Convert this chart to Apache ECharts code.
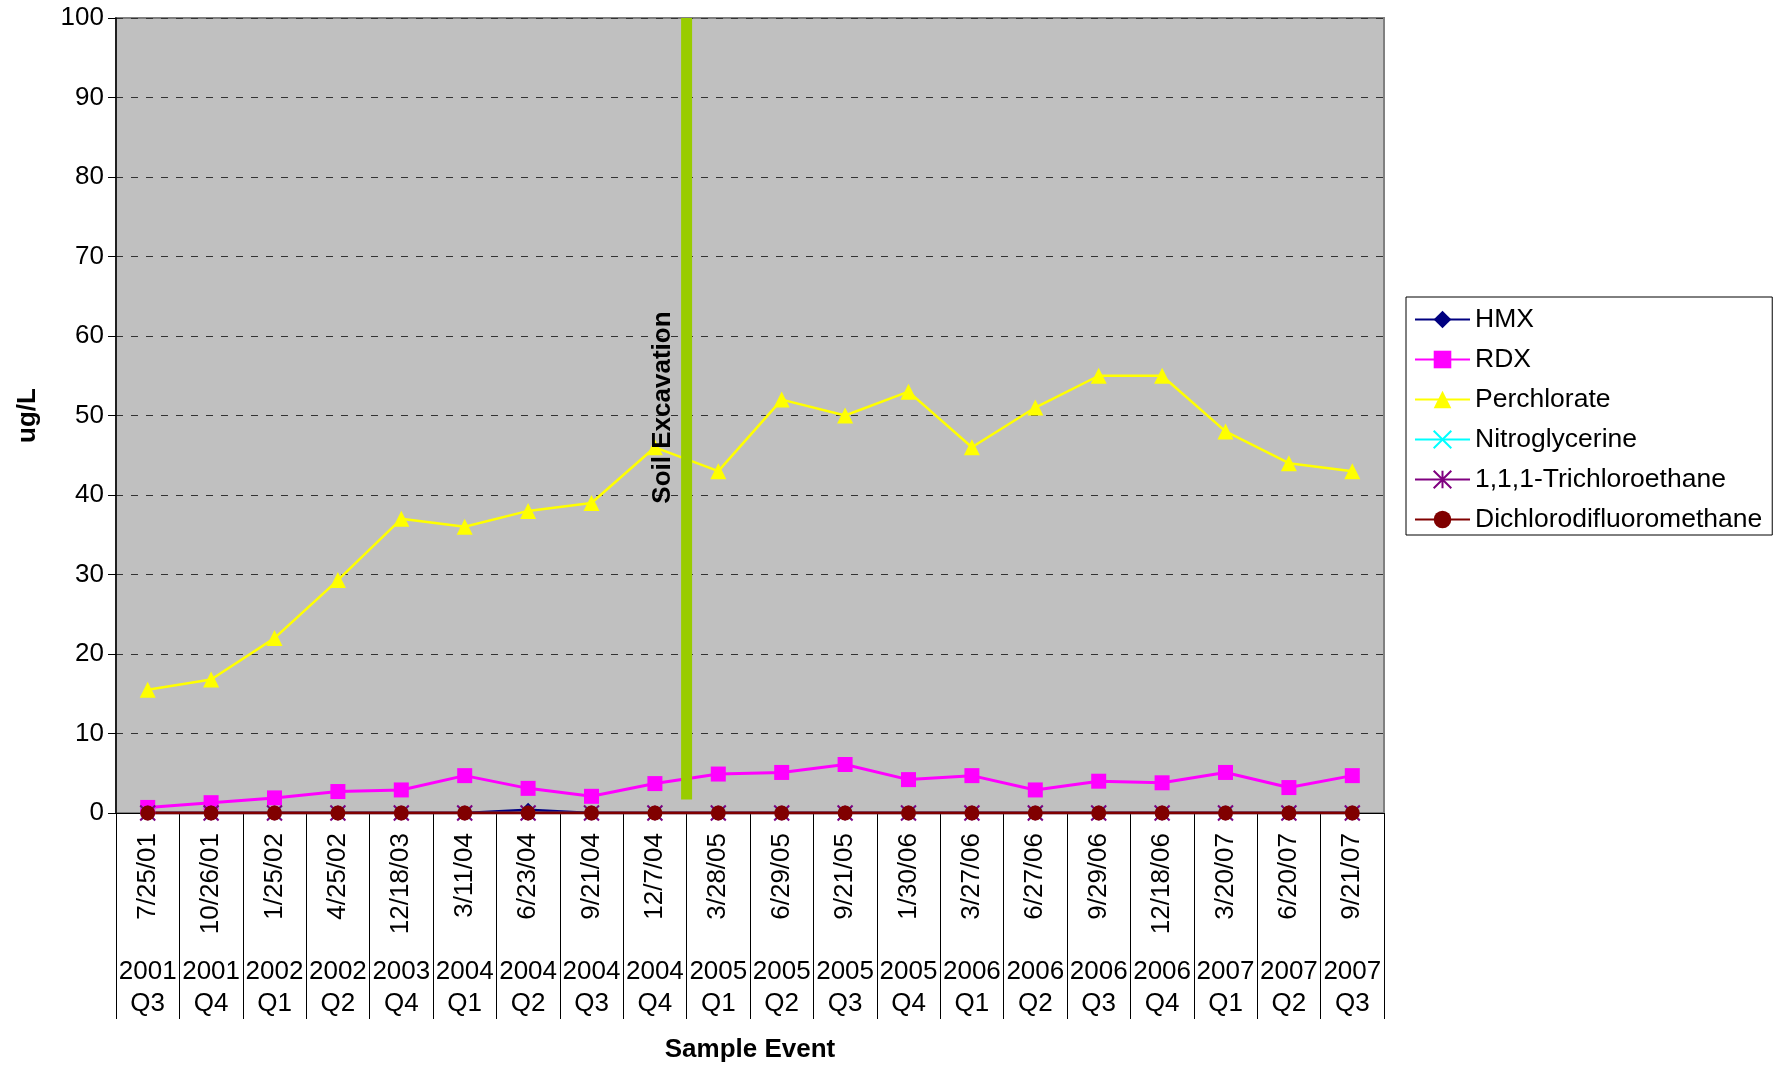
<!DOCTYPE html>
<html>
<head>
<meta charset="utf-8">
<script src="https://cdn.jsdelivr.net/npm/echarts@6/dist/echarts.min.js"></script>
<style>
  html, body { margin: 0; padding: 0; background: #fff; }
  #chart { width: 1780px; height: 1068px; }
</style>
</head>
<body>
<div id="chart"></div>
<script>
// Sample events: collection dates and the year/quarter they belong to
const sampleDates = ['7/25/01', '10/26/01', '1/25/02', '4/25/02', '12/18/03', '3/11/04', '6/23/04', '9/21/04', '12/7/04',
  '3/28/05', '6/29/05', '9/21/05', '1/30/06', '3/27/06', '6/27/06', '9/29/06', '12/18/06', '3/20/07', '6/20/07', '9/21/07'];
const sampleQuarters = ['2001\nQ3', '2001\nQ4', '2002\nQ1', '2002\nQ2', '2003\nQ4', '2004\nQ1', '2004\nQ2', '2004\nQ3', '2004\nQ4',
  '2005\nQ1', '2005\nQ2', '2005\nQ3', '2005\nQ4', '2006\nQ1', '2006\nQ2', '2006\nQ3', '2006\nQ4', '2007\nQ1', '2007\nQ2', '2007\nQ3'];

// Concentrations, ug/L
const hmx = [0, 0, 0, 0, 0, 0, 0.4, 0, 0, 0, 0, 0, 0, 0, 0, 0, 0, 0, 0, 0];
const rdx = [0.7, 1.3, 1.9, 2.7, 2.9, 4.7, 3.1, 2.1, 3.7, 4.9, 5.1, 6.1, 4.2, 4.7, 2.9, 4.0, 3.8, 5.1, 3.2, 4.7];
const perchlorate = [15.5, 16.8, 22, 29.3, 37, 36, 38, 39, 46, 43, 52, 50, 53, 46, 51, 55, 55, 48, 44, 43];
const nitroglycerine = [0, 0, 0, 0, 0, 0, 0, 0, 0, 0, 0, 0, 0, 0, 0, 0, 0, 0, 0, 0];
const trichloroethane = [0, 0, 0, 0, 0, 0, 0, 0, 0, 0, 0, 0, 0, 0, 0, 0, 0, 0, 0, 0];
const dichlorodifluoromethane = [0, 0, 0, 0, 0, 0, 0, 0, 0, 0, 0, 0, 0, 0, 0, 0, 0, 0, 0, 0];

// Soil excavation event: between the 12/7/04 and 3/28/05 samples
const excavationPosition = 8.5;
const excavationSpan = [1.7, 100];
const yTicks = { min: 0, max: 100, interval: 10 };

const FONT = "'Liberation Sans', Arial, Helvetica, sans-serif";
const FS = 26;

const chart = echarts.init(document.getElementById('chart'), null, { renderer: 'canvas' });

function lineSeries(name, data, color, symbol, size, width, extra) {
  return Object.assign({
    name: name,
    type: 'line',
    xAxisIndex: 0,
    yAxisIndex: 0,
    data: data,
    symbol: symbol,
    symbolSize: size,
    showAllSymbol: true,
    lineStyle: { color: color, width: width },
    itemStyle: { color: color, borderColor: color, borderWidth: 0 },
    emphasis: { disabled: true },
    animation: false
  }, extra || {});
}

const option = {
  backgroundColor: '#ffffff',
  animation: false,
  textStyle: { fontFamily: FONT, color: '#000' },
  grid: {
    left: 116, right: 396, top: 18, bottom: 247,
    show: true,
    backgroundColor: '#C0C0C0',
    borderColor: '#808080',
    borderWidth: 2
  },
  legend: {
    orient: 'vertical',
    left: 1406,
    top: 297,
    padding: [9, 10, 2, 8],
    itemWidth: 55,
    itemHeight: 22,
    itemGap: 13,
    borderColor: '#000',
    borderWidth: 1,
    backgroundColor: '#fff',
    textStyle: { fontFamily: FONT, fontSize: 26.5, color: '#000', lineHeight: 26 },
    data: ['HMX', 'RDX', 'Perchlorate', 'Nitroglycerine', '1,1,1-Trichloroethane', 'Dichlorodifluoromethane']
  },
  xAxis: [
    {
      type: 'category',
      data: sampleDates,
      boundaryGap: true,
      axisLine: { show: true, lineStyle: { color: '#000', width: 1 } },
      axisTick: { show: true, interval: 0, length: 206, lineStyle: { color: '#000', width: 1 } },
      axisLabel: {
        interval: 0, rotate: 90, margin: 20,
        fontFamily: FONT, fontSize: FS, color: '#000'
      },
      splitLine: { show: false },
      name: 'Sample Event',
      nameLocation: 'middle',
      nameGap: 224,
      nameTextStyle: { fontFamily: FONT, fontSize: FS, fontWeight: 'bold', color: '#000' }
    },
    {
      type: 'category',
      data: sampleQuarters,
      position: 'bottom',
      offset: 135,
      boundaryGap: true,
      axisLine: { show: false },
      axisTick: { show: false },
      axisLabel: {
        interval: 0, margin: 8,
        fontFamily: FONT, fontSize: FS, color: '#000', lineHeight: 32
      },
      splitLine: { show: false }
    },
    {
      type: 'value',
      min: -0.5,
      max: 19.5,
      show: false
    }
  ],
  yAxis: {
    type: 'value',
    min: yTicks.min,
    max: yTicks.max,
    interval: yTicks.interval,
    axisLine: { show: true, onZero: false, lineStyle: { color: '#000', width: 1.5 } },
    axisTick: { show: true, length: 8, lineStyle: { color: '#000' } },
    axisLabel: { fontFamily: FONT, fontSize: FS, color: '#000', margin: 12 },
    splitLine: { show: true, lineStyle: { color: '#333', type: [7, 8], width: 1 } },
    name: 'ug/L',
    nameLocation: 'middle',
    nameGap: 75,
    nameTextStyle: { fontFamily: FONT, fontSize: FS, fontWeight: 'bold', color: '#000' }
  },
  series: [
    // Soil excavation marker bar with its caption, drawn over the data lines
    {
      name: 'Soil Excavation',
      type: 'line',
      xAxisIndex: 2,
      yAxisIndex: 0,
      data: excavationSpan.map(v => [excavationPosition, v]),
      symbol: 'none',
      lineStyle: { color: '#99CC00', width: 11, cap: 'butt' },
      z: 5,
      silent: true,
      animation: false,
      markPoint: {
        symbol: 'rect',
        symbolSize: 1,
        itemStyle: { color: 'rgba(0,0,0,0)' },
        silent: true,
        data: [{
          coord: [excavationPosition, 51],
          label: {
            show: true,
            formatter: 'Soil Excavation',
            rotate: 90,
            position: 'inside',
            offset: [0, -24],
            fontFamily: FONT, fontSize: FS, fontWeight: 'bold', color: '#000'
          }
        }]
      }
    },
    lineSeries('HMX', hmx, '#000080', 'diamond', 14, 2.5, { z: 4 }),
    lineSeries('RDX', rdx, '#FF00FF', 'rect', 15, 3, { z: 4 }),
    lineSeries('Perchlorate', perchlorate, '#FFFF00', 'triangle', 16, 2.5, { z: 4 }),
    lineSeries('Nitroglycerine', nitroglycerine, '#00FFFF', 'path://M0,0L10,10M10,0L0,10', 13, 2.5,
      { z: 4, itemStyle: { color: '#00FFFF', borderColor: '#00FFFF', borderWidth: 2 } }),
    lineSeries('1,1,1-Trichloroethane', trichloroethane, '#800080', 'path://M0,0L10,10M10,0L0,10M5,0L5,10', 15, 2.5,
      { z: 4, itemStyle: { color: '#800080', borderColor: '#800080', borderWidth: 2 } }),
    lineSeries('Dichlorodifluoromethane', dichlorodifluoromethane, '#800000', 'circle', 15, 3, { z: 4 })
  ]
};

chart.setOption(option);
</script>
</body>
</html>
